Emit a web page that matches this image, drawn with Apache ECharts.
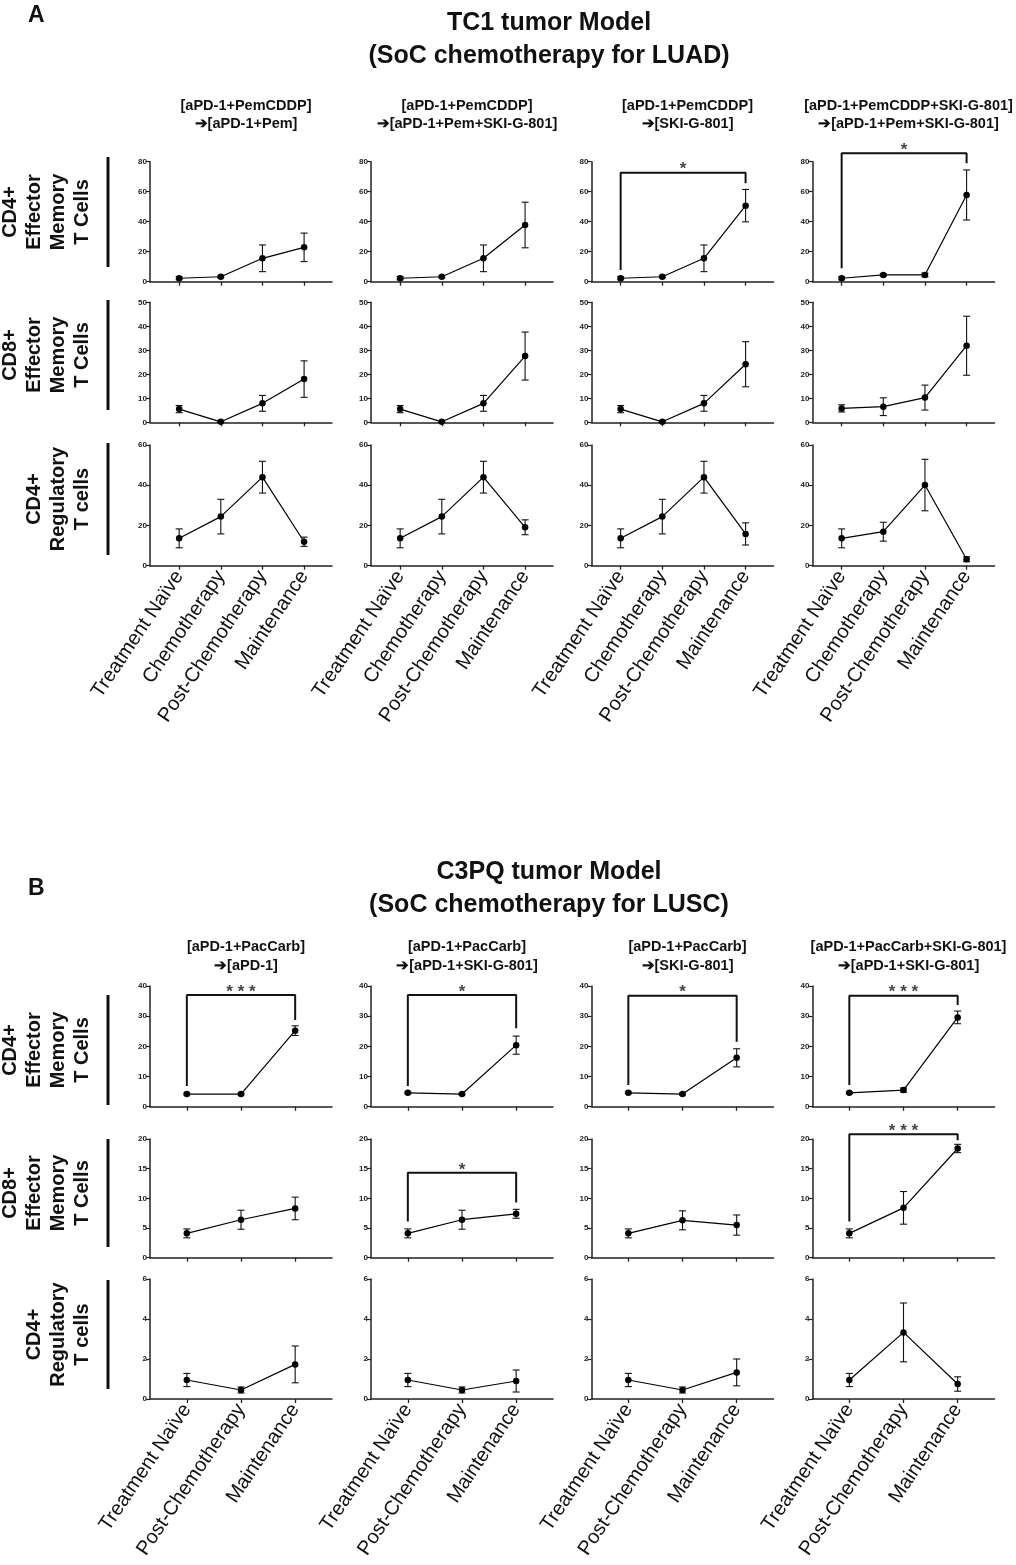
<!DOCTYPE html>
<html>
<head>
<meta charset="utf-8">
<script src="https://cdn.jsdelivr.net/npm/echarts@6/dist/echarts.min.js"></script>
<style>
html,body{margin:0;padding:0;background:#fff;}
#chart{width:1016px;height:1565px;}
</style>
</head>
<body>
<div id="chart"></div>
<script>
// ---------------- DATA ----------------
const catsA = ['Treatment Naïve', 'Chemotherapy', 'Post-Chemotherapy', 'Maintenance'];
const catsB = ['Treatment Naïve', 'Post-Chemotherapy', 'Maintenance'];

const titleA = 'TC1 tumor Model\n(SoC chemotherapy for LUAD)';
const titleB = 'C3PQ tumor Model\n(SoC chemotherapy for LUSC)';

const headersA = [
  '[aPD-1+PemCDDP]\n➔[aPD-1+Pem]',
  '[aPD-1+PemCDDP]\n➔[aPD-1+Pem+SKI-G-801]',
  '[aPD-1+PemCDDP]\n➔[SKI-G-801]',
  '[aPD-1+PemCDDP+SKI-G-801]\n➔[aPD-1+Pem+SKI-G-801]'
];
const headersB = [
  '[aPD-1+PacCarb]\n➔[aPD-1]',
  '[aPD-1+PacCarb]\n➔[aPD-1+SKI-G-801]',
  '[aPD-1+PacCarb]\n➔[SKI-G-801]',
  '[aPD-1+PacCarb+SKI-G-801]\n➔[aPD-1+SKI-G-801]'
];

const rowLabels = [
  'CD4+\nEffector\nMemory\nT Cells',
  'CD8+\nEffector\nMemory\nT Cells',
  'CD4+\nRegulatory\nT cells'
];

// y-axis ranges (max, interval) per row
const yMaxA = [80, 50, 60];
const yStepA = [20, 10, 20];
const yMaxB = [40, 20, 6];
const yStepB = [10, 5, 2];

// Panel A: one array per column (4 columns), 4 time points each
const meanA_CD4EM = [
  [2.3, 3.3, 15.6, 22.9],
  [2.3, 3.3, 15.6, 37.8],
  [2.3, 3.3, 15.6, 50.7],
  [2.3, 4.5, 4.5, 57.8]
];
const errA_CD4EM = [
  [1.0, 0.6, 8.9, 9.5],
  [1.0, 0.6, 8.9, 15.2],
  [1.0, 0.6, 8.9, 10.8],
  [1.0, 0.8, 1.2, 16.7]
];
const meanA_CD8EM = [
  [5.5, 0.2, 7.9, 18.0],
  [5.5, 0.2, 7.9, 27.6],
  [5.5, 0.2, 7.9, 24.2],
  [5.8, 6.5, 10.3, 31.9]
];
const errA_CD8EM = [
  [1.5, 0.3, 3.3, 7.6],
  [1.5, 0.3, 3.3, 10.0],
  [1.5, 0.3, 3.3, 9.4],
  [1.5, 3.7, 5.2, 12.3]
];
const meanA_Treg = [
  [13.6, 24.4, 44.0, 11.9],
  [13.6, 24.4, 44.0, 19.1],
  [13.6, 24.4, 44.0, 15.8],
  [13.6, 16.9, 40.1, 3.2]
];
const errA_Treg = [
  [4.7, 8.6, 7.9, 2.3],
  [4.7, 8.6, 7.9, 3.7],
  [4.7, 8.6, 7.9, 5.5],
  [4.7, 4.7, 12.8, 1.2]
];

// Panel B: 3 time points each
const meanB_CD4EM = [
  [4.2, 4.2, 25.2],
  [4.6, 4.2, 20.4],
  [4.6, 4.2, 16.2],
  [4.6, 5.5, 29.6]
];
const errB_CD4EM = [
  [0.3, 0.3, 1.6],
  [0.3, 0.3, 3.0],
  [0.3, 0.3, 3.0],
  [0.3, 0.7, 2.1]
];
const meanB_CD8EM = [
  [4.1, 6.4, 8.3],
  [4.1, 6.4, 7.4],
  [4.1, 6.3, 5.5],
  [4.1, 8.4, 18.4]
];
const errB_CD8EM = [
  [0.75, 1.6, 1.9],
  [0.75, 1.6, 0.75],
  [0.75, 1.6, 1.7],
  [0.75, 2.75, 0.7]
];
const meanB_Treg = [
  [0.95, 0.45, 1.73],
  [0.95, 0.45, 0.9],
  [0.95, 0.45, 1.33],
  [0.95, 3.33, 0.75]
];
const errB_Treg = [
  [0.33, 0.15, 0.92],
  [0.33, 0.15, 0.55],
  [0.33, 0.15, 0.67],
  [0.33, 1.47, 0.36]
];

// significance brackets (values in data units)
const sigA = [
  {row: 0, col: 2, from: 0, to: 3, top: 72.7, leftEnd: 7.8, rightEnd: 65.6, text: '*'},
  {row: 0, col: 3, from: 0, to: 3, top: 85.6, leftEnd: 8.9, rightEnd: 79, text: '*'}
];
const sigB = [
  {row: 0, col: 0, from: 0, to: 2, top: 37, leftEnd: 6.9, rightEnd: 28.7, text: '* * *'},
  {row: 0, col: 1, from: 0, to: 2, top: 37, leftEnd: 6.9, rightEnd: 26, text: '*'},
  {row: 0, col: 2, from: 0, to: 2, top: 36.8, leftEnd: 7.2, rightEnd: 21.5, text: '*'},
  {row: 0, col: 3, from: 0, to: 2, top: 36.8, leftEnd: 7.2, rightEnd: 33.7, text: '* * *'},
  {row: 1, col: 1, from: 0, to: 2, top: 14.3, leftEnd: 6.1, rightEnd: 9.3, text: '*'},
  {row: 1, col: 3, from: 0, to: 2, top: 20.8, leftEnd: 6.1, rightEnd: 19.8, text: '* * *'}
];

// ---------------- LAYOUT ----------------
const FONT = '"Liberation Sans", Arial, Helvetica, sans-serif';
const colLeft = [150, 371, 591.5, 812.5];
const plotW = 182;
const rowTopA = [161.7, 302.3, 445];
const rowHA = [120, 120, 120.7];
const rowTopB = [986, 1139, 1279];
const rowHB = [120.7, 118.7, 120];
const barA = [[157, 267], [300, 410], [443, 555]];
const barB = [[995, 1105], [1139, 1247], [1280, 1389]];

const panels = [
  {cats: catsA, xMin: -0.7, xMax: 3.67, rowTop: rowTopA, rowH: rowHA, yMax: yMaxA, yStep: yStepA,
   means: [meanA_CD4EM, meanA_CD8EM, meanA_Treg], errs: [errA_CD4EM, errA_CD8EM, errA_Treg], sig: sigA},
  {cats: catsB, xMin: -0.68, xMax: 2.68, rowTop: rowTopB, rowH: rowHB, yMax: yMaxB, yStep: yStepB,
   means: [meanB_CD4EM, meanB_CD8EM, meanB_Treg], errs: [errB_CD4EM, errB_CD8EM, errB_Treg], sig: sigB}
];

const grids = [], xAxes = [], yAxes = [], series = [];
let gi = 0;

function errorRender(params, api) {
  const x = api.value(0), lo = api.value(1), hi = api.value(2);
  const pLo = api.coord([x, lo]);
  const pHi = api.coord([x, hi]);
  const cap = 3.5;
  const st = {stroke: '#111', lineWidth: 1.1};
  return {
    type: 'group',
    children: [
      {type: 'line', shape: {x1: pLo[0], y1: pLo[1], x2: pHi[0], y2: pHi[1]}, style: st},
      {type: 'line', shape: {x1: pLo[0] - cap, y1: pLo[1], x2: pLo[0] + cap, y2: pLo[1]}, style: st},
      {type: 'line', shape: {x1: pHi[0] - cap, y1: pHi[1], x2: pHi[0] + cap, y2: pHi[1]}, style: st}
    ]
  };
}

panels.forEach((P, pIdx) => {
  const idxMap = {};
  for (let r = 0; r < 3; r++) {
    for (let c = 0; c < 4; c++) {
      const k = gi++;
      idxMap[r + '_' + c] = k;
      grids.push({left: colLeft[c], top: P.rowTop[r], width: plotW, height: P.rowH[r]});
      const tickVals = P.cats.map((_, i) => i);
      xAxes.push({
        type: 'value', gridIndex: k, min: P.xMin, max: P.xMax,
        splitLine: {show: false},
        axisLine: {show: true, onZero: false, lineStyle: {color: '#222', width: 1.5}},
        axisTick: {show: true, customValues: tickVals, length: 4, lineStyle: {color: '#222', width: 1.3}},
        axisLabel: {
          show: r === 2, customValues: tickVals,
          formatter: v => P.cats[Math.round(v)] || '',
          rotate: 56, fontSize: 20, fontFamily: FONT, color: '#111', margin: 7
        }
      });
      yAxes.push({
        type: 'value', gridIndex: k, min: 0, max: P.yMax[r], interval: P.yStep[r],
        splitLine: {show: false},
        axisLine: {show: true, onZero: false, lineStyle: {color: '#222', width: 1.5}},
        axisTick: {show: true, length: 4, lineStyle: {color: '#222', width: 1.2}},
        axisLabel: {fontSize: 8, fontWeight: 'bold', fontFamily: FONT, color: '#222', margin: 3}
      });
      const m = P.means[r][c], e = P.errs[r][c];
      series.push({
        type: 'custom', xAxisIndex: k, yAxisIndex: k, renderItem: errorRender, clip: false,
        data: m.map((v, i) => [i, v - e[i], v + e[i]]), z: 3, silent: true
      });
      series.push({
        type: 'line', xAxisIndex: k, yAxisIndex: k,
        data: m.map((v, i) => [i, v]),
        symbol: 'circle', symbolSize: 6.5, showSymbol: true,
        itemStyle: {color: '#000'}, lineStyle: {color: '#000', width: 1.2}, z: 4, silent: true
      });
    }
  }
  P.sig.forEach(s => {
    const k = idxMap[s.row + '_' + s.col];
    series.push({
      type: 'line', xAxisIndex: k, yAxisIndex: k, clip: false, symbol: 'none', silent: true,
      data: [[s.from, s.leftEnd], [s.from, s.top], [s.to, s.top], [s.to, s.rightEnd]],
      lineStyle: {color: '#111', width: 2}, z: 5
    });
    series.push({
      type: 'scatter', xAxisIndex: k, yAxisIndex: k, clip: false, symbolSize: 0, silent: true,
      data: [[(s.from + s.to) / 2, s.top]],
      label: {show: true, position: 'inside', offset: [0, -3], formatter: s.text,
              fontSize: 17, fontWeight: 'bold', fontFamily: FONT, color: '#111'},
      z: 6
    });
  });
});

// ---------------- GRAPHIC TEXT ----------------
const graphic = [];
function addText(x, y, text, font, align, vAlign, lineHeight, rotation) {
  graphic.push({
    type: 'text', x: x, y: y, rotation: rotation || 0, silent: true,
    style: {text: text, x: 0, y: 0, font: font, fill: '#111', align: align, verticalAlign: vAlign,
            lineHeight: lineHeight}
  });
}
addText(28, 4, 'A', 'bold 23px ' + FONT, 'left', 'top', 24);
addText(28, 877, 'B', 'bold 23px ' + FONT, 'left', 'top', 24);
addText(549, 40, titleA, 'bold 25px ' + FONT, 'center', 'middle', 33);
addText(549, 889, titleB, 'bold 25px ' + FONT, 'center', 'middle', 33);
headersA.forEach((h, c) => addText(colLeft[c] + plotW / 2 + 5, 115, h, 'bold 14.5px ' + FONT, 'center', 'middle', 17.5));
headersB.forEach((h, c) => addText(colLeft[c] + plotW / 2 + 5, 956, h, 'bold 14.5px ' + FONT, 'center', 'middle', 19));

[barA, barB].forEach(bars => {
  bars.forEach((b, r) => {
    graphic.push({type: 'rect', silent: true, shape: {x: 106.5, y: b[0], width: 3, height: b[1] - b[0]},
                  style: {fill: '#111'}});
    addText(94, (b[0] + b[1]) / 2, rowLabels[r], 'bold 20px ' + FONT, 'center', 'bottom', 24, Math.PI / 2);
  });
});

const chart = echarts.init(document.getElementById('chart'), null, {renderer: 'canvas'});
chart.setOption({
  animation: false,
  backgroundColor: '#fff',
  grid: grids,
  xAxis: xAxes,
  yAxis: yAxes,
  series: series,
  graphic: graphic
});
</script>
</body>
</html>
